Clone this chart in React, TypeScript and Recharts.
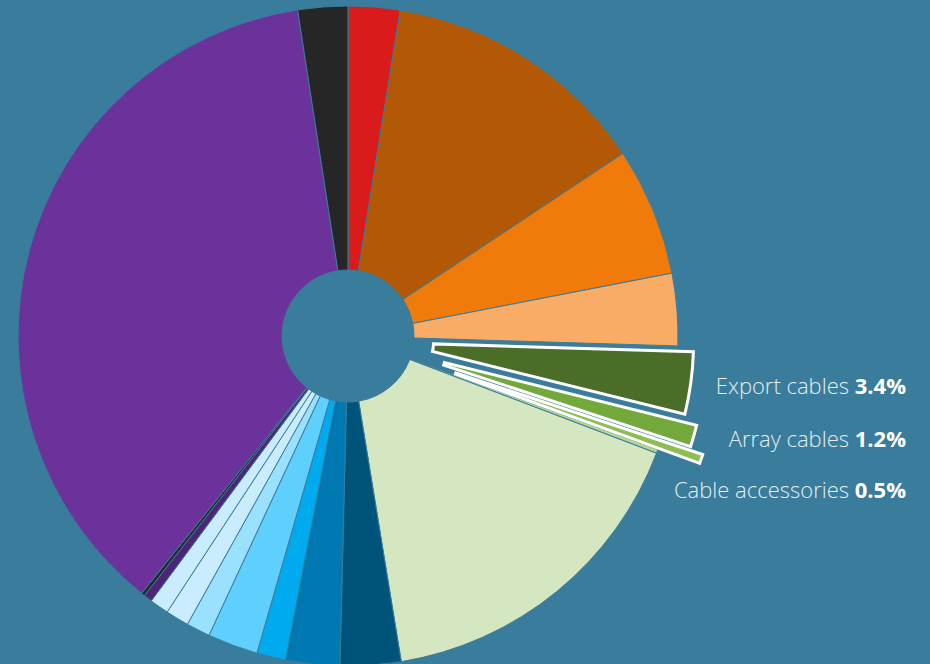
import { PieChart, Pie, Cell } from "recharts";

// slices clockwise from 12 o'clock, values in percent
const sliceNames = [
  "Turbine nacelle",
  "Rotor",
  "Tower",
  "Turbine other",
  "Export cables",
  "Array cables",
  "Cable accessories",
  "Cable other",
  "Foundations",
  "Offshore substation",
  "Onshore substation",
  "Substation other",
  "Installation turbine",
  "Installation foundation",
  "Installation cables",
  "Installation substation",
  "Installation other",
  "Contingency",
  "Development",
  "Other",
];
const sliceValues = [
  2.53, 13.14, 6.28, 3.53, 3.4, 1.2, 0.5, 0.2, 16.64, 2.97, 2.64, 1.42, 2.47,
  1.17, 1.14, 0.94, 0.42, 0.17, 36.8, 2.44,
];
const sliceColors = [
  "#d91b1b",
  "#b35905",
  "#f07a0a",
  "#f9ac66",
  "#4a6e28",
  "#73a83a",
  "#8cbf4f",
  "#b3d592",
  "#d4e7c1",
  "#005479",
  "#0079b2",
  "#00aaee",
  "#5fcffe",
  "#9ae0ff",
  "#c9edff",
  "#c9edff",
  "#4d2478",
  "#1f2a2a",
  "#6b329c",
  "#262626",
];
const highlighted = ["Export cables", "Array cables", "Cable accessories"];

const BG = "#3a7c9b";
const CX = 348;
const CY = 336;
const LABEL_RIGHT = 906;
const LABEL_GAP = 51;
const explodeDistance = [50, 64, 78];
const EXPLODED_INNER = 36;
const EXPLODED_OUTER = 296;

const data = sliceNames.map((name, i) => ({ name, value: sliceValues[i] }));

const total = sliceValues.reduce((a, b) => a + b, 0);
const midAngles: number[] = [];
{
  let acc = 0;
  sliceValues.forEach((v) => {
    midAngles.push(((acc + v / 2) / total) * 360);
    acc += v;
  });
}
const rad = (d: number) => (d * Math.PI) / 180;

const exploded = highlighted.map((name, k) => {
  const index = sliceNames.indexOf(name);
  const mid = midAngles[index];
  const d = explodeDistance[k];
  return {
    index,
    cx: CX + d * Math.sin(rad(mid)),
    cy: CY - d * Math.cos(rad(mid)),
    mid,
  };
});

const labelYs: number[] = [];
exploded.forEach((e, k) => {
  let y = e.cy - EXPLODED_OUTER * Math.cos(rad(e.mid)) + 2;
  if (k > 0 && y < labelYs[k - 1] + LABEL_GAP) y = labelYs[k - 1] + LABEL_GAP;
  labelYs.push(y);
});

export default function App() {
  return (
    <div
      style={{
        position: "fixed",
        left: 0,
        top: 0,
        width: 930,
        height: 664,
        background: BG,
      }}
    >
      <PieChart
        width={930}
        height={664}
        margin={{ top: 0, right: 0, bottom: 0, left: 0 }}
      >
        <Pie
          data={data}
          dataKey="value"
          nameKey="name"
          cx={CX}
          cy={CY}
          innerRadius={66}
          outerRadius={330}
          startAngle={90}
          endAngle={-270}
          isAnimationActive={false}
          labelLine={false}
        >
          {data.map((d, i) =>
            highlighted.includes(d.name) ? (
              <Cell key={i} fill="none" stroke="none" />
            ) : (
              <Cell key={i} fill={sliceColors[i]} stroke={BG} strokeWidth={1} />
            )
          )}
        </Pie>
        {exploded.map((e, k) => (
          <Pie
            key={"x" + k}
            data={data}
            dataKey="value"
            nameKey="name"
            cx={e.cx}
            cy={e.cy}
            innerRadius={EXPLODED_INNER}
            outerRadius={EXPLODED_OUTER}
            startAngle={90}
            endAngle={-270}
            isAnimationActive={false}
            labelLine={false}
            label={(p: any) =>
              p.index === e.index ? (
                <text
                  x={LABEL_RIGHT}
                  y={labelYs[k]}
                  textAnchor="end"
                  dominantBaseline="central"
                  fontFamily="'Open Sans', sans-serif"
                  fontSize={22}
                >
                  <tspan fontWeight={300} fill="#e4eef3">
                    {sliceNames[e.index] + " "}
                  </tspan>
                  <tspan fontWeight={700} fill="#ffffff">
                    {sliceValues[e.index].toFixed(1) + "%"}
                  </tspan>
                </text>
              ) : null
            }
          >
            {data.map((d, i) =>
              i === e.index ? (
                <Cell
                  key={i}
                  fill={sliceColors[i]}
                  stroke="#ffffff"
                  strokeWidth={3}
                />
              ) : (
                <Cell key={i} fill="none" stroke="none" />
              )
            )}
          </Pie>
        ))}
      </PieChart>
    </div>
  );
}
